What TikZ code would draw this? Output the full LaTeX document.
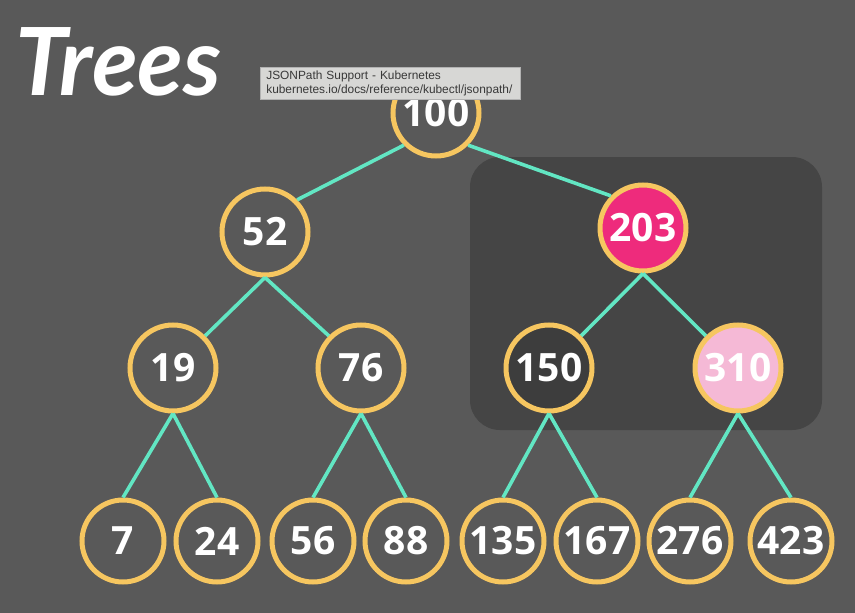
\documentclass[tikz,border=0pt]{standalone}
\usepackage{fontspec}
\setmainfont{Open Sans}
\newfontfamily\titlefont{Lato}
\newfontfamily\tipfont{Liberation Sans}
\usetikzlibrary{positioning}

\definecolor{slate}{HTML}{595959}
\definecolor{panel}{HTML}{454545}
\definecolor{hollow}{HTML}{3D3D3D}
\definecolor{ring}{HTML}{F6C660}
\definecolor{treeline}{HTML}{62E6C3}
\definecolor{hotpink}{HTML}{EE2B7C}
\definecolor{softpink}{HTML}{F5B9D6}
\definecolor{tipgray}{HTML}{D7D7D5}

\begin{document}
\begin{tikzpicture}[x=1pt, y=-1pt, on grid, every edge/.style={draw=treeline, line width=3.6pt}]
\tikzstyle{key}=[circle, draw=ring, line width=5pt, fill=slate, minimum size=86pt, inner sep=0pt, text=white, font=\fontsize{39}{40}\selectfont\bfseries]
\tikzstyle{leaf}=[key, minimum size=82pt]

\useasboundingbox (0,0) rectangle (855,613);
\fill[slate] (0,0) rectangle (855,613);
\fill[panel, rounded corners=30pt] (470,157) rectangle (822,430);

\node[key]			(100)	at (436,113)				{100};
\node[key]			(52)	[below left=119pt and 171pt of 100]	{52};
\node[key, fill=hotpink]	(203)	[below right=115pt and 207pt of 100]	{203};
\node[key]			(19)	[below left=136pt and 92pt of 52]	{19};
\node[key]			(76)	[below right=136pt and 96pt of 52]	{76};
\node[key, fill=hollow]	(150)	[below left=140pt and 94pt of 203]	{150};
\node[key, fill=softpink]	(310)	[below right=140pt and 95pt of 203]	{310};
\node[leaf]			(7)	[below left=173pt and 50pt of 19]	{7};
\node[leaf]			(24)	[below right=173pt and 44pt of 19]	{24};
\node[leaf]			(56)	[below left=173pt and 48pt of 76]	{56};
\node[leaf]			(88)	[below right=173pt and 45pt of 76]	{88};
\node[leaf]			(135)	[below left=173pt and 46pt of 150]	{135};
\node[leaf]			(167)	[below right=173pt and 48pt of 150]	{167};
\node[leaf]			(276)	[below left=173pt and 48pt of 310]	{276};
\node[leaf]			(423)	[below right=173pt and 53pt of 310]	{423};

\path
	(100.south west)	edge	(52.north east)
	(100.south east)	edge	(203.north west)
	(52.south)	edge	(19.north east)
	(52.south)	edge	(76.north west)
	(203.south)	edge	(150.north east)
	(203.south)	edge	(310.north west)
	(19.south)	edge	(7.north)
	(19.south)	edge	(24.north)
	(76.south)	edge	(56.north)
	(76.south)	edge	(88.north)
	(150.south)	edge	(135.north)
	(150.south)	edge	(167.north)
	(310.south)	edge	(276.north)
	(310.south)	edge	(423.north)
;

\node[anchor=base west, text=white, font=\titlefont\bfseries\itshape\fontsize{94}{94}\selectfont] (title) at (12,95) {Trees};

\node[anchor=north west, fill=tipgray, draw=black!30, line width=0.6pt, text=black!78, text width=248pt, inner xsep=6pt, minimum height=32pt, align=left, font=\tipfont\fontsize{11.9}{14}\selectfont] (tip) at (260,67) {JSONPath Support - Kubernetes\\kubernetes.io/docs/reference/kubectl/jsonpath/};

\end{tikzpicture}
\end{document}
